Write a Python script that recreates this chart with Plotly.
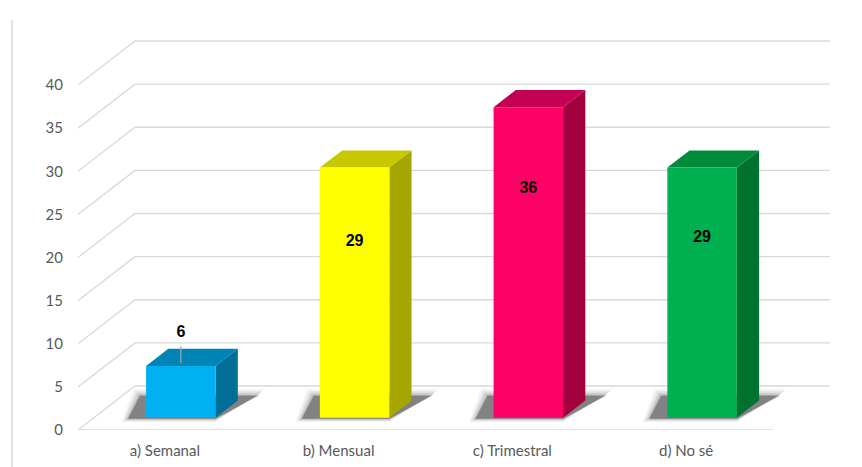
import plotly.graph_objects as go

# ---- data ----
categories = ["a) Semanal", "b) Mensual", "c) Trimestral", "d) No sé"]
values = [6, 29, 36, 29]
y_ticks = [0, 5, 10, 15, 20, 25, 30, 35, 40]

# ---- style ----
front_colors = ["#00B0F0", "#FFFF00", "#FF0066", "#00B050"]
top_colors = ["#0084B6", "#C8C800", "#C40052", "#008A3C"]
side_colors = ["#006E96", "#A6A600", "#A3003F", "#00722F"]
label_y = [11.2, 21.8, 28.0, 22.3]

# 3D projection (in data units)
PX_X = 173.75             # px per category
PX_Y = 8.625              # px per unit
DX, DY = 57 / PX_X, 44 / PX_Y
F0, DEPTH = 0.28, 0.39
W = 0.40
X0, X1 = -0.5, len(categories) - 0.5
grid_col = "#D9D9D9"

fig = go.Figure()


def poly(xs, ys, color):
    fig.add_trace(go.Scatter(x=xs + [xs[0]], y=ys + [ys[0]], mode="lines", fill="toself",
                             fillcolor=color, line=dict(width=0),
                             hoverinfo="skip", showlegend=False))


# gridlines
gx, gy = [], []
for v in y_ticks:
    gx += [X0, X0 + DX, X1 + DX, None]
    gy += [v, v + DY, v + DY, None]
gx += [X0, X1, None]
gy += [0, 0, None]
fig.add_trace(go.Scatter(x=gx, y=gy, mode="lines", line=dict(color=grid_col, width=1.3),
                         hoverinfo="skip", showlegend=False))

base = F0 * DY
cxs = [i + F0 * DX for i in range(len(categories))]
ddx, ddy = DEPTH * DX, DEPTH * DY
ux, uy = 1 / PX_X, 1 / PX_Y   # one pixel in data units

# floor shadows (layered for softness)
for i, v in enumerate(values):
    cx = cxs[i]
    L, R = cx - W / 2, cx + W / 2
    for g, alpha in [(7, 0.04), (5, 0.07), (3, 0.11), (1, 0.18), (0, 0.30)]:
        poly([L - (18 + g) * ux, R, R + (43 + g) * ux, L - (6 + g) * ux],
             [base - (1 + g * 0.5) * uy, base - (1 + g * 0.5) * uy,
              base + (22 + g) * uy, base + (22 + g) * uy],
             f"rgba(30,30,30,{alpha})")

# bars: side, top, front
for i, v in enumerate(values):
    cx = cxs[i]
    L, R = cx - W / 2, cx + W / 2
    top = base + v
    poly([R, R + ddx, R + ddx, R], [base, base + ddy, top + ddy, top], side_colors[i])
    poly([L, R, R + ddx, L + ddx], [top, top, top + ddy, top + ddy], top_colors[i])
    poly([L, R, R, L], [base, base, top, top], front_colors[i])

# leader line for labels above bars
for i, v in enumerate(values):
    if label_y[i] > base + v:
        fig.add_trace(go.Scatter(x=[cxs[i], cxs[i]], y=[base + v + 0.3, label_y[i] - 1.5],
                                 mode="lines", line=dict(color="#A6A6A6", width=1.2),
                                 hoverinfo="skip", showlegend=False))

# data labels
fig.add_trace(go.Scatter(x=cxs, y=label_y, mode="text", text=[str(v) for v in values],
                         textfont=dict(family="Liberation Sans", size=16, color="#000000"),
                         texttemplate="<b>%{text}</b>", hoverinfo="skip", showlegend=False))

plot_w, plot_h = 762, 410
fig.update_layout(
    width=862, height=467,
    margin=dict(l=78, r=22, t=20, b=37, autoexpand=False),
    paper_bgcolor="white", plot_bgcolor="white",
    font=dict(family="Lato", size=15, color="#595959"),
    xaxis=dict(range=[X0, X0 + plot_w / PX_X], tickvals=list(range(len(categories))),
               ticktext=categories, showgrid=False, zeroline=False, showline=False,
               ticks="outside", ticklen=7, tickcolor="rgba(0,0,0,0)", fixedrange=True,
               automargin=False),
    yaxis=dict(range=[0, plot_h / PX_Y], tickvals=y_ticks, showgrid=False, zeroline=False,
               showline=False, ticks="outside", ticklen=11, tickcolor="rgba(0,0,0,0)",
               fixedrange=True, automargin=False),
    shapes=[dict(type="line", xref="paper", yref="paper", x0=-66 / plot_w, x1=-66 / plot_w,
                 y0=-37 / plot_h, y1=1.0, line=dict(color="#D9D9D9", width=1.5))],
)

fig.write_html("out.html")
